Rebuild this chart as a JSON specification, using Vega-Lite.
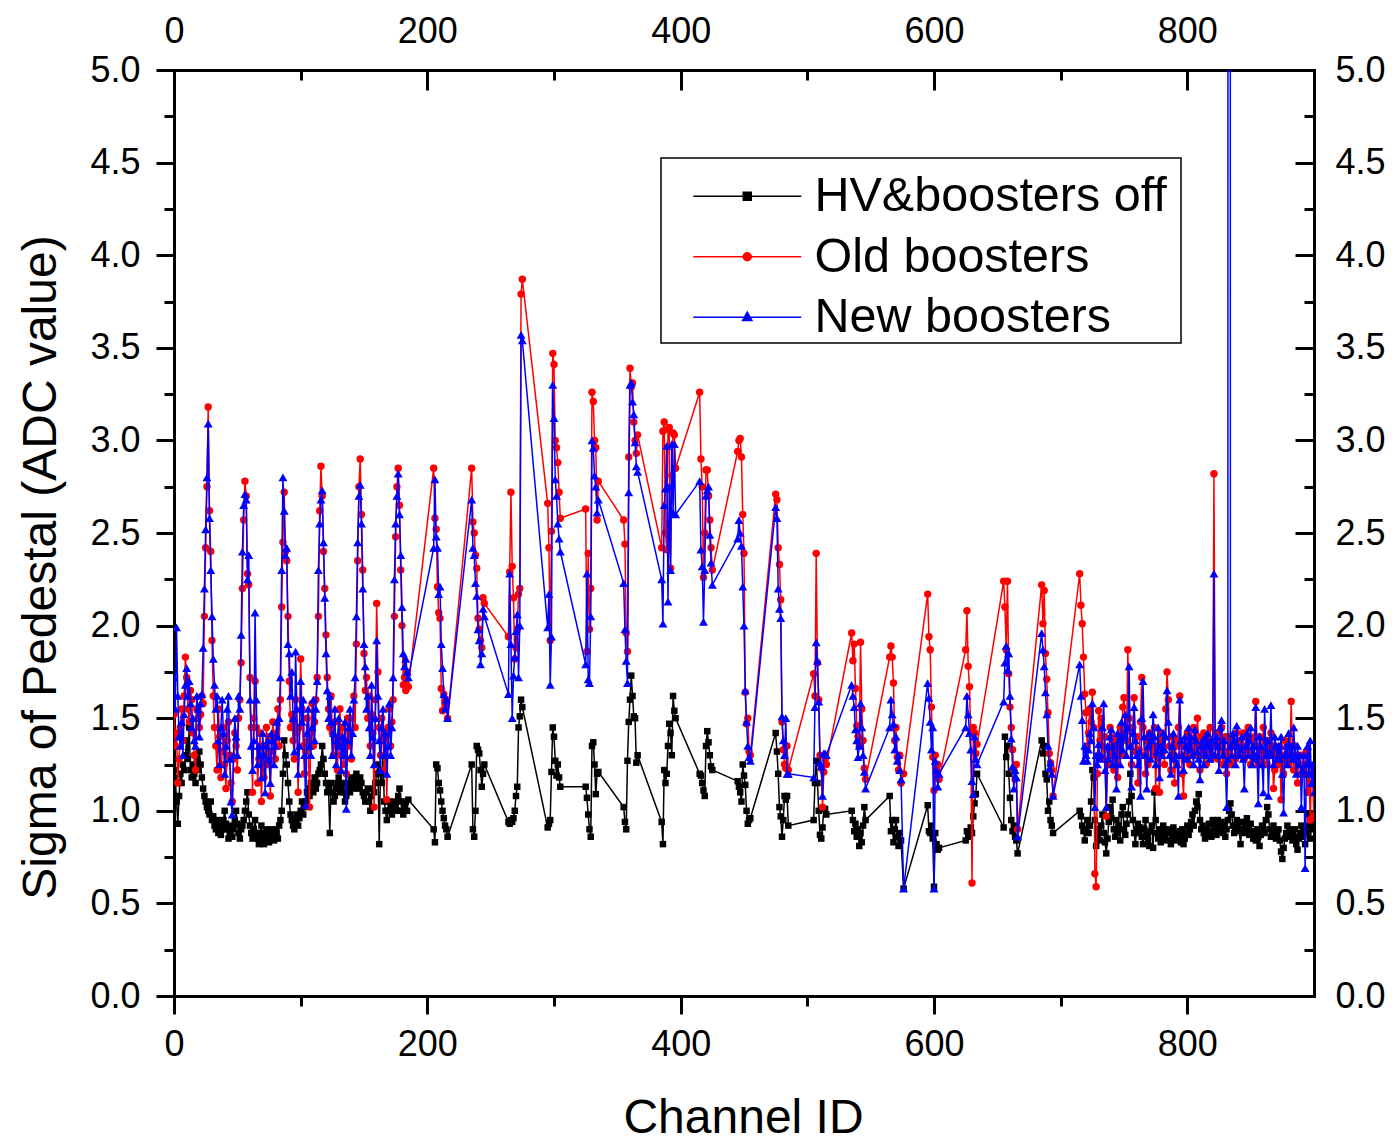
{
"$schema": "https://vega.github.io/schema/vega-lite/v6.json",
"width": 1140, "height": 926,
"autosize": {"type": "none"},
"padding": {"left": 174, "top": 70, "right": 86, "bottom": 145},
"background": "white",
"config": {
 "view": {"stroke": null},
 "font": "Liberation Sans",
 "axis": {"domainColor": "black", "domainWidth": 3, "domainCap": "square", "tickColor": "black", "tickWidth": 3, "labelFont": "Liberation Sans", "labelFontSize": 36, "labelColor": "black", "titleFont": "Liberation Sans", "titleFontSize": 48, "titleFontWeight": "normal", "titleColor": "black", "grid": false, "labelFlush": false, "labelOverlap": false, "zindex": 1}
},
"data": {"values": [
{"c":0,"k":1.22,"r":1.52,"b":1.72},{"c":1,"k":1.18,"r":1.35,"b":1.55},{"c":2,"k":1.05,"r":1.42,"b":1.99},{"c":3,"k":0.93,"r":1.15,"b":1.62},{"c":4,"k":1.08,"r":1.28,"b":1.40},{"c":5,"k":1.20,"r":1.45,"b":1.35},{"c":6,"k":1.15,"r":1.55,"b":1.48},{"c":7,"k":1.25,"r":1.38,"b":1.30},{"c":8,"k":1.22,"r":1.62,"b":1.52},{"c":9,"k":1.30,"r":1.83,"b":1.68},
{"c":10,"k":1.38,"r":1.72,"b":1.77},{"c":11,"k":1.28,"r":1.55,"b":1.62},{"c":12,"k":1.45,"r":1.48,"b":1.70},{"c":13,"k":1.22,"r":1.65,"b":1.58},{"c":14,"k":1.18,"r":1.60,"b":1.45},{"c":15,"k":1.25,"r":1.42,"b":1.50},{"c":16,"k":1.20,"r":1.30,"b":1.38},{"c":17,"k":1.15,"r":1.22,"b":1.35},{"c":18,"k":1.28,"r":1.55,"b":1.62},{"c":19,"k":1.22,"r":1.50,"b":1.55},
{"c":20,"k":1.32,"r":1.45,"b":1.40},{"c":21,"k":1.25,"r":1.52,"b":1.58},{"c":22,"k":1.18,"r":1.62,"b":1.63},{"c":23,"k":1.12,"r":1.58,"b":1.88},{"c":24,"k":1.08,"r":2.05,"b":2.20},{"c":25,"k":1.05,"r":2.42,"b":2.52},{"c":26,"k":1.02,"r":2.75,"b":2.80},{"c":27,"k":1.00,"r":3.18,"b":3.09},{"c":28,"k":0.98,"r":2.62,"b":2.58},{"c":29,"k":1.05,"r":2.40,"b":2.30},
{"c":30,"k":0.95,"r":1.92,"b":2.05},{"c":31,"k":0.97,"r":1.62,"b":1.82},{"c":32,"k":0.92,"r":1.45,"b":1.68},{"c":33,"k":0.90,"r":1.35,"b":1.55},{"c":34,"k":0.95,"r":1.22,"b":1.62},{"c":35,"k":0.88,"r":1.55,"b":1.38},{"c":36,"k":0.92,"r":1.40,"b":1.25},{"c":37,"k":0.87,"r":1.18,"b":1.45},{"c":38,"k":0.90,"r":1.32,"b":1.60},{"c":39,"k":0.95,"r":1.45,"b":1.42},
{"c":40,"k":1.00,"r":1.25,"b":1.20},{"c":41,"k":0.93,"r":1.12,"b":1.35},{"c":42,"k":0.90,"r":1.38,"b":1.55},{"c":43,"k":0.85,"r":1.48,"b":1.62},{"c":44,"k":0.88,"r":1.30,"b":1.28},{"c":45,"k":0.92,"r":1.15,"b":1.05},{"c":46,"k":0.86,"r":1.05,"b":0.98},{"c":47,"k":0.90,"r":1.28,"b":1.30},{"c":48,"k":0.95,"r":1.42,"b":1.50},{"c":49,"k":1.00,"r":1.35,"b":1.40},
{"c":50,"k":0.93,"r":1.22,"b":1.30},{"c":51,"k":0.88,"r":1.50,"b":1.62},{"c":52,"k":0.85,"r":1.60,"b":1.55},{"c":53,"k":0.90,"r":1.80,"b":1.95},{"c":54,"k":0.92,"r":2.20,"b":2.40},{"c":55,"k":0.95,"r":2.57,"b":2.65},{"c":56,"k":1.00,"r":2.78,"b":2.71},{"c":57,"k":1.05,"r":2.70,"b":2.68},{"c":58,"k":1.10,"r":2.28,"b":2.25},{"c":59,"k":0.98,"r":2.22,"b":2.38},
{"c":60,"k":0.92,"r":1.72,"b":1.60},{"c":61,"k":0.88,"r":1.45,"b":1.35},{"c":62,"k":0.85,"r":1.10,"b":1.22},{"c":63,"k":0.90,"r":1.50,"b":1.38},{"c":64,"k":0.95,"r":1.70,"b":2.07},{"c":65,"k":0.88,"r":1.45,"b":1.60},{"c":66,"k":0.85,"r":1.15,"b":1.25},{"c":67,"k":0.82,"r":1.28,"b":1.35},{"c":68,"k":0.88,"r":1.42,"b":1.30},{"c":69,"k":0.92,"r":1.05,"b":1.18},
{"c":70,"k":0.85,"r":1.35,"b":1.42},{"c":71,"k":0.82,"r":1.18,"b":1.30},{"c":72,"k":0.88,"r":1.30,"b":1.10},{"c":73,"k":0.90,"r":1.45,"b":1.35},{"c":74,"k":0.85,"r":1.25,"b":1.38},{"c":75,"k":0.83,"r":1.40,"b":1.28},{"c":76,"k":0.88,"r":1.08,"b":1.15},{"c":77,"k":0.90,"r":1.32,"b":1.42},{"c":78,"k":0.86,"r":1.48,"b":1.38},{"c":79,"k":0.84,"r":1.38,"b":1.25},
{"c":80,"k":0.90,"r":1.28,"b":1.35},{"c":81,"k":0.88,"r":1.42,"b":1.48},{"c":82,"k":0.85,"r":1.55,"b":1.40},{"c":83,"k":0.92,"r":1.35,"b":1.50},{"c":84,"k":0.95,"r":1.60,"b":1.72},{"c":85,"k":1.00,"r":2.10,"b":2.30},{"c":86,"k":1.20,"r":2.45,"b":2.80},{"c":87,"k":1.38,"r":2.72,"b":2.62},{"c":88,"k":1.30,"r":2.40,"b":2.38},{"c":89,"k":1.25,"r":2.35,"b":2.42},
{"c":90,"k":1.15,"r":2.05,"b":1.90},{"c":91,"k":1.05,"r":1.70,"b":1.85},{"c":92,"k":0.98,"r":1.45,"b":1.62},{"c":93,"k":0.95,"r":1.52,"b":1.75},{"c":94,"k":0.92,"r":1.38,"b":1.50},{"c":95,"k":0.90,"r":1.28,"b":1.32},{"c":96,"k":0.95,"r":1.60,"b":1.86},{"c":97,"k":0.98,"r":1.42,"b":1.55},{"c":98,"k":0.92,"r":1.10,"b":1.20},{"c":99,"k":0.96,"r":1.45,"b":1.35},
{"c":100,"k":1.00,"r":1.82,"b":1.70},{"c":101,"k":1.05,"r":1.55,"b":1.48},{"c":102,"k":0.98,"r":1.35,"b":1.60},{"c":103,"k":1.02,"r":1.20,"b":1.30},{"c":104,"k":1.05,"r":1.32,"b":1.03},{"c":105,"k":1.10,"r":1.50,"b":1.42},{"c":106,"k":1.12,"r":1.38,"b":1.55},{"c":107,"k":1.08,"r":1.02,"b":1.35},{"c":108,"k":1.15,"r":1.42,"b":1.30},{"c":109,"k":1.12,"r":1.58,"b":1.45},
{"c":110,"k":1.10,"r":1.35,"b":1.60},{"c":111,"k":1.18,"r":1.48,"b":1.38},{"c":112,"k":1.12,"r":1.60,"b":1.55},{"c":113,"k":1.15,"r":1.72,"b":1.70},{"c":114,"k":1.20,"r":2.05,"b":2.30},{"c":115,"k":1.22,"r":2.62,"b":2.55},{"c":116,"k":1.25,"r":2.86,"b":2.68},{"c":117,"k":1.35,"r":2.70,"b":2.73},{"c":118,"k":1.28,"r":2.40,"b":2.45},{"c":119,"k":1.20,"r":2.20,"b":2.15},
{"c":120,"k":1.15,"r":1.95,"b":1.85},{"c":121,"k":1.10,"r":1.72,"b":1.65},{"c":122,"k":1.12,"r":1.55,"b":1.50},{"c":123,"k":0.88,"r":1.45,"b":1.62},{"c":124,"k":1.15,"r":1.62,"b":1.48},{"c":125,"k":1.10,"r":1.42,"b":1.30},{"c":126,"k":1.05,"r":1.30,"b":1.42},{"c":127,"k":1.08,"r":1.48,"b":1.55},{"c":128,"k":1.12,"r":1.35,"b":1.25},{"c":129,"k":1.15,"r":1.22,"b":1.38},
{"c":130,"k":1.18,"r":1.40,"b":1.50},{"c":131,"k":1.10,"r":1.55,"b":1.35},{"c":132,"k":1.12,"r":1.30,"b":1.22},{"c":133,"k":1.15,"r":1.45,"b":1.40},{"c":134,"k":1.10,"r":1.25,"b":1.30},{"c":135,"k":1.05,"r":1.38,"b":1.48},{"c":136,"k":1.08,"r":1.20,"b":1.01},{"c":137,"k":1.12,"r":1.50,"b":1.38},{"c":138,"k":1.15,"r":1.35,"b":1.45},{"c":139,"k":1.10,"r":1.42,"b":1.55},
{"c":140,"k":1.18,"r":1.28,"b":1.30},{"c":141,"k":1.15,"r":1.50,"b":1.42},{"c":142,"k":1.12,"r":1.62,"b":1.60},{"c":143,"k":1.18,"r":1.45,"b":1.72},{"c":144,"k":1.20,"r":1.90,"b":2.05},{"c":145,"k":1.15,"r":2.35,"b":2.45},{"c":146,"k":1.12,"r":2.75,"b":2.70},{"c":147,"k":1.18,"r":2.90,"b":2.76},{"c":148,"k":1.15,"r":2.60,"b":2.55},{"c":149,"k":1.10,"r":2.30,"b":2.20},
{"c":150,"k":1.08,"r":1.85,"b":1.90},{"c":151,"k":1.05,"r":1.65,"b":1.78},{"c":152,"k":1.10,"r":1.72,"b":1.55},{"c":153,"k":1.12,"r":1.50,"b":1.62},{"c":154,"k":1.05,"r":1.62,"b":1.45},{"c":155,"k":1.00,"r":1.35,"b":1.30},{"c":156,"k":1.08,"r":1.52,"b":1.68},{"c":157,"k":1.12,"r":1.42,"b":1.40},{"c":158,"k":1.10,"r":1.02,"b":1.25},{"c":159,"k":1.15,"r":1.60,"b":1.50},
{"c":160,"k":1.20,"r":2.12,"b":1.92},{"c":161,"k":1.25,"r":1.75,"b":1.62},{"c":162,"k":0.82,"r":1.45,"b":1.38},{"c":163,"k":1.22,"r":1.30,"b":1.22},{"c":164,"k":1.15,"r":1.50,"b":1.45},{"c":165,"k":1.30,"r":1.38,"b":1.55},{"c":166,"k":1.05,"r":1.22,"b":1.30},{"c":167,"k":1.00,"r":1.40,"b":1.42},{"c":168,"k":0.95,"r":1.06,"b":1.20},{"c":169,"k":1.00,"r":1.45,"b":1.35},
{"c":170,"k":1.05,"r":1.55,"b":1.58},{"c":171,"k":1.02,"r":1.35,"b":1.30},{"c":172,"k":0.98,"r":1.48,"b":1.45},{"c":173,"k":1.00,"r":1.60,"b":1.72},{"c":174,"k":1.05,"r":2.05,"b":2.25},{"c":175,"k":1.02,"r":2.48,"b":2.55},{"c":176,"k":1.00,"r":2.75,"b":2.70},{"c":177,"k":1.08,"r":2.85,"b":2.82},{"c":178,"k":1.12,"r":2.65,"b":2.60},{"c":179,"k":1.05,"r":2.30,"b":2.38},
{"c":180,"k":1.00,"r":2.00,"b":2.10},{"c":181,"k":0.98,"r":1.68,"b":1.85},{"c":182,"k":1.02,"r":1.72,"b":1.78},{"c":183,"k":1.05,"r":1.65,"b":1.82},{"c":184,"k":1.00,"r":1.75,"b":1.75},{"c":185,"k":1.06,"r":1.67,"b":1.72},
{"c":205,"k":0.90,"r":2.85,"b":2.42},{"c":206,"k":0.83,"r":2.58,"b":2.79},{"c":207,"k":1.25,"r":2.52,"b":2.48},{"c":208,"k":1.23,"r":2.21,"b":2.42},{"c":209,"k":1.15,"r":2.07,"b":2.17},{"c":210,"k":1.11,"r":2.04,"b":2.21},{"c":211,"k":1.05,"r":1.66,"b":1.90},{"c":212,"k":1.00,"r":1.54,"b":1.77},{"c":213,"k":0.96,"r":1.63,"b":1.63},{"c":214,"k":0.92,"r":1.58,"b":1.55},{"c":215,"k":0.90,"r":1.60,"b":1.60},{"c":216,"k":0.86,"r":1.50,"b":1.50},
{"c":235,"k":1.25,"r":2.85,"b":2.68},{"c":236,"k":0.90,"r":2.56,"b":2.42},{"c":237,"k":0.86,"r":2.50,"b":2.38},{"c":238,"k":1.00,"r":2.38,"b":2.23},{"c":239,"k":1.35,"r":2.31,"b":2.16},{"c":240,"k":1.33,"r":2.04,"b":1.98},{"c":241,"k":1.31,"r":1.98,"b":1.92},{"c":242,"k":1.22,"r":1.92,"b":1.79},{"c":243,"k":1.13,"r":1.88,"b":1.85},{"c":244,"k":1.20,"r":2.15,"b":2.09},{"c":245,"k":1.25,"r":2.12,"b":2.05},
{"c":264,"k":0.94,"r":1.94,"b":1.63},{"c":265,"k":0.93,"r":2.29,"b":2.28},{"c":266,"k":0.95,"r":2.72,"b":1.90},{"c":267,"k":0.94,"r":2.32,"b":1.50},{"c":268,"k":0.96,"r":2.15,"b":1.73},{"c":269,"k":1.00,"r":1.82,"b":1.83},{"c":270,"k":1.08,"r":1.88,"b":1.97},{"c":271,"k":1.13,"r":1.98,"b":2.06},{"c":272,"k":1.45,"r":2.17,"b":1.72},{"c":273,"k":1.51,"r":2.20,"b":2.00},{"c":274,"k":1.60,"r":3.79,"b":3.57},{"c":275,"k":1.56,"r":3.87,"b":3.54},
{"c":295,"k":0.91,"r":2.66,"b":1.99},{"c":296,"k":0.93,"r":2.42,"b":2.17},{"c":297,"k":0.95,"r":1.92,"b":1.68},{"c":298,"k":1.21,"r":2.51,"b":1.94},{"c":299,"k":1.45,"r":3.47,"b":3.30},{"c":300,"k":1.40,"r":3.41,"b":3.12},{"c":301,"k":1.27,"r":3.00,"b":2.79},{"c":302,"k":1.19,"r":2.96,"b":2.70},{"c":303,"k":1.25,"r":2.88,"b":2.55},{"c":304,"k":1.18,"r":2.72,"b":2.47},{"c":305,"k":1.13,"r":2.58,"b":2.40},
{"c":325,"k":1.13,"r":2.63,"b":1.79},{"c":326,"k":1.07,"r":1.86,"b":2.28},{"c":327,"k":0.98,"r":2.39,"b":1.71},{"c":328,"k":0.90,"r":1.98,"b":1.69},{"c":329,"k":0.86,"r":2.20,"b":2.05},{"c":330,"k":1.35,"r":3.26,"b":3.00},{"c":331,"k":1.37,"r":3.21,"b":2.96},{"c":332,"k":1.25,"r":3.00,"b":2.81},{"c":333,"k":1.09,"r":2.96,"b":2.75},{"c":334,"k":1.20,"r":2.57,"b":2.61},{"c":335,"k":1.21,"r":2.78,"b":2.68},
{"c":355,"k":1.02,"r":2.57,"b":2.23},{"c":356,"k":0.94,"r":2.44,"b":1.98},{"c":357,"k":0.90,"r":1.96,"b":1.81},{"c":358,"k":1.27,"r":1.86,"b":1.69},{"c":359,"k":1.48,"r":2.91,"b":2.72},{"c":360,"k":1.60,"r":3.39,"b":3.30},{"c":361,"k":1.73,"r":3.29,"b":3.31},{"c":362,"k":1.62,"r":3.31,"b":3.21},{"c":363,"k":1.51,"r":3.10,"b":3.14},{"c":364,"k":1.50,"r":3.00,"b":2.99},{"c":365,"k":1.26,"r":2.93,"b":2.86},{"c":366,"k":1.30,"r":3.03,"b":2.83},
{"c":385,"k":0.94,"r":2.42,"b":2.25},{"c":386,"k":0.82,"r":3.05,"b":2.01},{"c":387,"k":1.22,"r":3.10,"b":2.65},{"c":388,"k":1.15,"r":2.50,"b":2.74},{"c":389,"k":1.20,"r":2.41,"b":2.97},{"c":390,"k":1.35,"r":3.06,"b":2.13},{"c":391,"k":1.47,"r":3.07,"b":2.75},{"c":392,"k":1.42,"r":2.31,"b":2.30},{"c":393,"k":1.30,"r":2.81,"b":2.98},{"c":394,"k":1.62,"r":3.04,"b":2.61},{"c":395,"k":1.54,"r":3.03,"b":2.98},{"c":396,"k":1.50,"r":2.85,"b":2.60},
{"c":415,"k":1.20,"r":3.26,"b":2.78},{"c":416,"k":1.19,"r":2.90,"b":2.41},{"c":417,"k":1.15,"r":2.75,"b":2.32},{"c":418,"k":1.11,"r":2.26,"b":2.02},{"c":419,"k":1.08,"r":2.50,"b":2.30},{"c":420,"k":1.35,"r":2.84,"b":2.70},{"c":421,"k":1.43,"r":2.84,"b":2.73},{"c":422,"k":1.37,"r":2.70,"b":2.75},{"c":423,"k":1.30,"r":2.57,"b":2.49},{"c":424,"k":1.24,"r":2.42,"b":2.34},{"c":425,"k":1.22,"r":2.30,"b":2.22},
{"c":445,"k":1.16,"r":2.94,"b":2.47},{"c":446,"k":1.13,"r":3.00,"b":2.57},{"c":447,"k":1.10,"r":3.01,"b":2.50},{"c":448,"k":1.05,"r":2.91,"b":2.43},{"c":449,"k":1.25,"r":2.60,"b":2.21},{"c":450,"k":1.19,"r":2.39,"b":2.00},{"c":451,"k":1.14,"r":1.64,"b":1.65},{"c":452,"k":1.00,"r":1.47,"b":1.48},{"c":453,"k":0.93,"r":1.50,"b":1.35},{"c":454,"k":0.95,"r":1.32,"b":1.29},{"c":455,"k":0.96,"r":1.30,"b":1.27},
{"c":475,"k":1.42,"r":2.71,"b":2.64},{"c":476,"k":1.32,"r":2.68,"b":2.58},{"c":477,"k":1.20,"r":2.42,"b":2.20},{"c":478,"k":1.02,"r":2.33,"b":2.09},{"c":479,"k":0.97,"r":2.14,"b":2.04},{"c":480,"k":0.86,"r":1.48,"b":1.51},{"c":481,"k":0.95,"r":1.33,"b":1.38},{"c":482,"k":1.08,"r":1.25,"b":1.30},{"c":483,"k":1.06,"r":1.23,"b":1.50},{"c":484,"k":1.08,"r":1.35,"b":1.20},{"c":485,"k":0.92,"r":1.22,"b":1.20},
{"c":505,"k":0.95,"r":1.74,"b":1.18},{"c":506,"k":1.15,"r":1.62,"b":1.56},{"c":507,"k":1.27,"r":2.39,"b":1.91},{"c":508,"k":1.15,"r":1.80,"b":1.81},{"c":509,"k":1.00,"r":1.60,"b":1.59},{"c":510,"k":0.87,"r":1.30,"b":1.26},{"c":511,"k":0.85,"r":1.23,"b":1.24},{"c":512,"k":0.91,"r":1.02,"b":1.08},{"c":513,"k":1.01,"r":1.21,"b":1.31},{"c":514,"k":1.01,"r":1.28,"b":1.31},{"c":515,"k":0.98,"r":1.25,"b":1.30},
{"c":535,"k":1.00,"r":1.96,"b":1.68},{"c":536,"k":0.95,"r":1.81,"b":1.62},{"c":537,"k":0.89,"r":1.90,"b":1.56},{"c":538,"k":0.93,"r":1.66,"b":1.44},{"c":539,"k":0.86,"r":1.46,"b":1.38},{"c":540,"k":0.90,"r":1.40,"b":1.29},{"c":541,"k":0.81,"r":1.35,"b":1.35},{"c":542,"k":0.88,"r":1.91,"b":1.58},{"c":543,"k":0.83,"r":1.55,"b":1.45},{"c":544,"k":0.92,"r":1.38,"b":1.30},{"c":545,"k":1.02,"r":1.23,"b":1.21},{"c":546,"k":0.95,"r":1.17,"b":1.12},
{"c":565,"k":1.08,"r":1.83,"b":1.45},{"c":566,"k":0.89,"r":1.89,"b":1.60},{"c":567,"k":0.95,"r":1.83,"b":1.52},{"c":568,"k":0.83,"r":1.69,"b":1.47},{"c":569,"k":0.90,"r":1.38,"b":1.33},{"c":570,"k":0.95,"r":1.45,"b":1.40},{"c":571,"k":0.86,"r":1.29,"b":1.27},{"c":572,"k":0.81,"r":1.22,"b":1.30},{"c":573,"k":0.88,"r":1.30,"b":1.22},{"c":574,"k":0.84,"r":1.15,"b":1.17},{"c":576,"k":0.58,"r":1.20,"b":0.58},
{"c":595,"k":1.03,"r":2.17,"b":1.69},{"c":596,"k":0.89,"r":1.94,"b":1.61},{"c":597,"k":0.88,"r":1.87,"b":1.48},{"c":598,"k":0.92,"r":1.56,"b":1.33},{"c":599,"k":0.85,"r":1.29,"b":1.45},{"c":600,"k":0.59,"r":1.11,"b":0.58},{"c":601,"k":0.88,"r":1.30,"b":1.27},{"c":602,"k":0.82,"r":1.22,"b":1.22},{"c":603,"k":0.79,"r":1.25,"b":1.13},{"c":604,"k":0.80,"r":1.17,"b":1.20},
{"c":625,"k":0.84,"r":1.87,"b":1.45},{"c":626,"k":0.89,"r":2.08,"b":1.62},{"c":627,"k":0.87,"r":1.78,"b":1.52},{"c":628,"k":0.86,"r":1.67,"b":1.42},{"c":629,"k":0.91,"r":1.42,"b":1.33},{"c":630,"k":0.88,"r":0.61,"b":1.16},{"c":631,"k":0.97,"r":1.45,"b":1.09},{"c":632,"k":1.04,"r":1.42,"b":1.40},{"c":633,"k":1.09,"r":1.31,"b":1.28},{"c":634,"k":1.20,"r":1.36,"b":1.25},
{"c":655,"k":0.91,"r":2.24,"b":1.59},{"c":656,"k":1.40,"r":2.10,"b":1.80},{"c":657,"k":1.29,"r":1.87,"b":1.89},{"c":658,"k":1.35,"r":2.24,"b":1.76},{"c":659,"k":1.20,"r":1.74,"b":1.85},{"c":660,"k":1.07,"r":1.56,"b":1.62},{"c":661,"k":0.95,"r":1.45,"b":1.39},{"c":662,"k":0.89,"r":1.33,"b":1.24},{"c":663,"k":0.92,"r":1.22,"b":1.12},{"c":664,"k":0.86,"r":1.17,"b":1.22},{"c":665,"k":0.84,"r":1.25,"b":1.18},{"c":666,"k":0.77,"r":0.90,"b":0.86},
{"c":685,"k":1.38,"r":2.22,"b":1.96},{"c":686,"k":1.31,"r":2.01,"b":1.87},{"c":687,"k":1.35,"r":2.19,"b":1.78},{"c":688,"k":1.20,"r":1.85,"b":1.64},{"c":689,"k":1.17,"r":1.71,"b":1.52},{"c":690,"k":1.00,"r":1.53,"b":1.35},{"c":691,"k":1.05,"r":1.31,"b":1.23},{"c":692,"k":0.95,"r":1.26,"b":1.26},{"c":693,"k":0.92,"r":1.22,"b":1.20},{"c":694,"k":0.88,"r":1.08,"b":1.08},
{"c":715,"k":1.00,"r":2.28,"b":1.79},{"c":716,"k":0.97,"r":2.11,"b":1.62},{"c":717,"k":0.92,"r":2.01,"b":1.49},{"c":718,"k":0.89,"r":1.83,"b":1.27},{"c":719,"k":0.84,"r":1.63,"b":1.35},{"c":720,"k":0.90,"r":1.53,"b":1.30},{"c":721,"k":0.95,"r":1.35,"b":1.27},
{"c":722,"k":0.88,"r":1.42,"b":1.33},{"c":723,"k":0.92,"r":1.55,"b":1.42},{"c":724,"k":1.05,"r":1.48,"b":1.38},{"c":725,"k":1.22,"r":1.64,"b":1.58},{"c":726,"k":1.18,"r":1.45,"b":1.45},{"c":727,"k":0.95,"r":0.66,"b":1.02},{"c":728,"k":0.81,"r":0.59,"b":1.30},{"c":729,"k":0.86,"r":1.20,"b":1.25},{"c":730,"k":0.90,"r":1.54,"b":1.36},{"c":731,"k":0.84,"r":1.38,"b":1.28},
{"c":732,"k":0.92,"r":1.50,"b":1.30},{"c":733,"k":0.98,"r":1.35,"b":1.45},{"c":734,"k":0.88,"r":1.28,"b":1.58},{"c":735,"k":0.83,"r":1.40,"b":1.22},{"c":736,"k":0.77,"r":0.97,"b":1.02},{"c":737,"k":0.85,"r":1.25,"b":1.35},{"c":738,"k":0.94,"r":1.33,"b":1.28},{"c":739,"k":1.02,"r":1.45,"b":1.40},{"c":740,"k":0.96,"r":1.30,"b":1.44},{"c":741,"k":1.06,"r":1.38,"b":1.25},
{"c":742,"k":0.90,"r":1.22,"b":1.35},{"c":743,"k":0.86,"r":1.40,"b":1.30},{"c":744,"k":0.95,"r":1.32,"b":1.12},{"c":745,"k":0.88,"r":1.18,"b":1.42},{"c":746,"k":0.92,"r":1.35,"b":1.38},{"c":747,"k":0.84,"r":1.45,"b":1.25},{"c":748,"k":0.98,"r":1.30,"b":1.48},{"c":749,"k":1.02,"r":1.56,"b":1.33},{"c":750,"k":0.90,"r":1.61,"b":1.40},{"c":751,"k":0.87,"r":1.42,"b":1.52},
{"c":752,"k":0.93,"r":1.38,"b":1.30},{"c":753,"k":0.98,"r":1.87,"b":1.45},{"c":754,"k":1.05,"r":1.50,"b":1.78},{"c":755,"k":1.20,"r":1.35,"b":1.35},{"c":756,"k":1.08,"r":1.25,"b":1.13},{"c":757,"k":0.95,"r":1.45,"b":1.42},{"c":758,"k":0.88,"r":1.61,"b":1.56},{"c":759,"k":0.82,"r":1.32,"b":1.38},{"c":760,"k":0.90,"r":1.40,"b":1.30},{"c":761,"k":0.93,"r":1.15,"b":1.25},
{"c":762,"k":0.88,"r":1.33,"b":1.32},{"c":763,"k":0.91,"r":1.48,"b":1.08},{"c":764,"k":0.86,"r":1.72,"b":1.50},{"c":765,"k":0.82,"r":1.45,"b":1.70},{"c":766,"k":0.90,"r":1.30,"b":1.40},{"c":767,"k":0.95,"r":1.20,"b":1.30},{"c":768,"k":0.87,"r":1.38,"b":1.12},{"c":769,"k":0.84,"r":1.25,"b":1.35},{"c":770,"k":0.81,"r":1.42,"b":1.42},{"c":771,"k":0.89,"r":1.35,"b":1.28},
{"c":772,"k":0.92,"r":1.40,"b":1.38},{"c":773,"k":0.80,"r":1.30,"b":1.52},{"c":774,"k":1.10,"r":1.45,"b":1.40},{"c":775,"k":0.95,"r":1.12,"b":1.25},{"c":776,"k":0.88,"r":1.35,"b":1.32},{"c":777,"k":0.85,"r":1.28,"b":1.45},{"c":778,"k":0.90,"r":1.10,"b":1.18},{"c":779,"k":0.83,"r":1.38,"b":1.35},{"c":780,"k":0.87,"r":1.42,"b":1.30},{"c":781,"k":0.92,"r":1.33,"b":1.42},
{"c":782,"k":0.86,"r":1.25,"b":1.33},{"c":783,"k":0.89,"r":1.55,"b":1.40},{"c":784,"k":0.84,"r":1.75,"b":1.65},{"c":785,"k":0.90,"r":1.60,"b":1.48},{"c":786,"k":0.88,"r":1.35,"b":1.30},{"c":787,"k":0.82,"r":1.22,"b":1.20},{"c":788,"k":0.87,"r":1.40,"b":1.35},{"c":789,"k":0.91,"r":1.30,"b":1.42},{"c":790,"k":0.85,"r":1.15,"b":1.28},{"c":791,"k":0.88,"r":1.38,"b":1.30},
{"c":792,"k":0.84,"r":1.35,"b":1.25},{"c":793,"k":0.86,"r":1.45,"b":1.08},{"c":794,"k":0.89,"r":1.62,"b":1.60},{"c":795,"k":0.83,"r":1.30,"b":1.38},{"c":796,"k":0.90,"r":1.20,"b":1.30},{"c":797,"k":0.82,"r":1.08,"b":1.22},{"c":798,"k":0.85,"r":1.35,"b":1.40},{"c":799,"k":0.88,"r":1.28,"b":1.35},{"c":800,"k":0.92,"r":1.42,"b":1.28},{"c":801,"k":0.87,"r":1.30,"b":1.45},
{"c":802,"k":0.90,"r":1.25,"b":1.33},{"c":803,"k":0.94,"r":1.38,"b":1.40},{"c":804,"k":0.98,"r":1.32,"b":1.30},{"c":805,"k":0.92,"r":1.45,"b":1.25},{"c":806,"k":1.00,"r":1.30,"b":1.44},{"c":807,"k":1.05,"r":1.38,"b":1.38},{"c":808,"k":1.02,"r":1.50,"b":1.32},{"c":809,"k":1.09,"r":1.35,"b":1.28},{"c":810,"k":0.95,"r":1.22,"b":1.17},{"c":811,"k":0.90,"r":1.40,"b":1.35},
{"c":812,"k":0.92,"r":1.30,"b":1.38},{"c":813,"k":0.88,"r":1.42,"b":1.25},{"c":814,"k":0.85,"r":1.35,"b":1.40},{"c":815,"k":0.90,"r":1.25,"b":1.30},{"c":816,"k":0.87,"r":1.38,"b":1.42},{"c":817,"k":0.93,"r":1.32,"b":1.35},{"c":818,"k":0.89,"r":1.45,"b":1.28},{"c":819,"k":0.86,"r":1.28,"b":1.38},{"c":820,"k":0.95,"r":1.30,"b":1.30},{"c":821,"k":0.92,"r":2.82,"b":2.28},
{"c":822,"k":0.90,"r":1.35,"b":1.30},{"c":823,"k":0.87,"r":1.42,"b":1.40},{"c":824,"k":0.95,"r":1.28,"b":1.35},{"c":825,"k":0.92,"r":1.38,"b":1.22},{"c":826,"k":0.89,"r":1.33,"b":1.45},{"c":827,"k":0.94,"r":1.45,"b":1.49},{"c":828,"k":0.88,"r":1.25,"b":1.30},{"c":829,"k":0.92,"r":1.30,"b":1.38},{"c":830,"k":0.86,"r":1.40,"b":1.25},{"c":831,"k":0.90,"r":1.20,"b":1.02},
{"c":832,"k":0.95,"r":1.32,"b":1.28},{"c":833,"k":1.00,"r":1.40,"b":50},{"c":834,"k":1.04,"r":1.30,"b":1.35},{"c":835,"k":0.98,"r":1.25,"b":1.30},{"c":836,"k":0.92,"r":1.38,"b":1.42},{"c":837,"k":0.88,"r":1.35,"b":1.38},{"c":838,"k":0.90,"r":1.28,"b":1.25},{"c":839,"k":0.95,"r":1.42,"b":1.46},{"c":840,"k":0.93,"r":1.30,"b":1.35},{"c":841,"k":0.89,"r":1.36,"b":1.30},
{"c":842,"k":0.82,"r":1.38,"b":1.33},{"c":843,"k":0.90,"r":1.30,"b":1.40},{"c":844,"k":0.94,"r":1.42,"b":1.28},{"c":845,"k":0.88,"r":1.28,"b":1.12},{"c":846,"k":0.92,"r":1.35,"b":1.35},{"c":847,"k":0.96,"r":1.40,"b":1.42},{"c":848,"k":0.90,"r":1.45,"b":1.30},{"c":849,"k":0.87,"r":1.32,"b":1.38},{"c":850,"k":0.93,"r":1.25,"b":1.45},{"c":851,"k":0.89,"r":1.38,"b":1.25},
{"c":852,"k":0.85,"r":1.30,"b":1.35},{"c":853,"k":0.88,"r":1.40,"b":1.28},{"c":854,"k":0.84,"r":1.59,"b":1.56},{"c":855,"k":0.90,"r":1.35,"b":1.30},{"c":856,"k":0.86,"r":1.25,"b":1.04},{"c":857,"k":0.81,"r":1.40,"b":1.40},{"c":858,"k":0.87,"r":1.32,"b":1.35},{"c":859,"k":0.92,"r":1.28,"b":1.25},{"c":860,"k":0.90,"r":1.45,"b":1.10},{"c":861,"k":0.88,"r":1.38,"b":1.55},
{"c":862,"k":0.95,"r":1.32,"b":1.30},{"c":863,"k":1.02,"r":1.25,"b":1.38},{"c":864,"k":0.98,"r":1.38,"b":1.08},{"c":865,"k":0.90,"r":1.30,"b":1.32},{"c":866,"k":0.86,"r":1.42,"b":1.57},{"c":867,"k":0.88,"r":1.35,"b":1.30},{"c":868,"k":0.92,"r":1.12,"b":1.25},{"c":869,"k":0.89,"r":1.22,"b":1.40},{"c":870,"k":0.85,"r":1.33,"b":1.35},{"c":871,"k":0.87,"r":1.30,"b":1.28},
{"c":872,"k":0.90,"r":1.25,"b":1.35},{"c":873,"k":0.84,"r":1.35,"b":1.28},{"c":874,"k":0.78,"r":1.06,"b":1.40},{"c":875,"k":0.74,"r":1.30,"b":1.20},{"c":876,"k":0.80,"r":1.20,"b":0.99},{"c":877,"k":0.85,"r":1.38,"b":1.30},{"c":878,"k":0.88,"r":1.28,"b":1.35},{"c":879,"k":0.92,"r":1.35,"b":1.25},{"c":880,"k":0.86,"r":1.25,"b":1.42},{"c":881,"k":0.90,"r":1.30,"b":1.30},
{"c":882,"k":0.88,"r":1.59,"b":1.35},{"c":883,"k":0.84,"r":1.30,"b":1.28},{"c":884,"k":0.86,"r":1.22,"b":1.45},{"c":885,"k":0.90,"r":1.35,"b":1.30},{"c":886,"k":0.82,"r":1.28,"b":1.20},{"c":887,"k":0.79,"r":1.15,"b":1.35},{"c":888,"k":0.85,"r":1.30,"b":1.25},{"c":889,"k":0.88,"r":1.25,"b":1.30},{"c":890,"k":0.92,"r":1.20,"b":1.02},{"c":891,"k":0.86,"r":1.30,"b":1.22},
{"c":892,"k":0.90,"r":1.25,"b":1.30},{"c":893,"k":0.82,"r":1.20,"b":0.69},{"c":894,"k":0.88,"r":1.32,"b":1.25},{"c":895,"k":0.92,"r":1.10,"b":1.35},{"c":896,"k":0.98,"r":1.25,"b":1.20},{"c":897,"k":0.85,"r":0.95,"b":1.38},{"c":898,"k":0.90,"r":1.20,"b":1.15},{"c":899,"k":0.95,"r":1.15,"b":1.25},{"c":900,"k":0.92,"r":0.97,"b":1.10}
]},
"layer": [
 {"mark": {"type": "line", "strokeWidth": 1.5, "clip": true},
  "encoding": {
   "x": {"field": "c", "type": "quantitative", "scale": {"domain": [0, 900], "nice": false, "zero": false},
         "axis": {"orient": "bottom", "values": [0, 200, 400, 600, 800], "tickSize": 18, "labelPadding": 13, "title": "Channel ID", "titleX": 569, "titleY": 136, "titleAlign": "center", "titleBaseline": "alphabetic", "titleAnchor": null}},
   "y": {"field": "k", "type": "quantitative", "scale": {"domain": [0, 5], "nice": false, "zero": false},
         "axis": {"orient": "left", "values": [0, 0.5, 1, 1.5, 2, 2.5, 3, 3.5, 4, 4.5, 5], "format": ".1f", "tickSize": 18, "labelPadding": 16, "title": "Sigma of Pedestal (ADC value)", "titleAngle": 270, "titleX": -119, "titleY": 497, "titleAlign": "center", "titleBaseline": "alphabetic", "titleAnchor": null}},
   "color": {"datum": "HV&boosters off", "type": "nominal",
     "scale": {"domain": ["HV&boosters off", "Old boosters", "New boosters"], "range": ["#000000", "#ff0000", "#0000ff"]},
     "legend": {"orient": "none", "legendX": 487, "legendY": 88, "title": " ", "titleFontSize": 10, "titlePadding": 3, "padding": 1, "rowPadding": 11.5,
       "strokeColor": "black", "fillColor": "white", "symbolSize": 400, "symbolOffset": 61, "labelOffset": 43,
       "labelFont": "Liberation Sans", "labelFontSize": 48.5, "labelColor": "black", "labelLimit": 0, "labelBaseline": "middle",
       "encode": {
         "legend": {"update": {"strokeWidth": {"value": 1.5}}},
         "symbols": {"update": {
           "shape": {"signal": "datum.value == 'HV&boosters off' ? 'M-5.4,0H5.4M-0.4,-0.4H0.4V0.4H-0.4ZM42.9,0' : datum.value == 'Old boosters' ? 'M-5.4,0H5.4M-0.4,0A0.4,0.4 0 1,0 0.4,0A0.4,0.4 0 1,0 -0.4,0ZM42.9,0' : 'M-5.4,0H5.4M0,-0.52L0.47,0.32L-0.47,0.32ZM42.9,0'"},
           "size": {"value": 400},
           "fill": {"scale": "color", "field": "value"},
           "stroke": {"scale": "color", "field": "value"},
           "fillOpacity": {"value": 1},
           "strokeOpacity": {"value": 1},
           "opacity": {"value": 1},
           "strokeWidth": {"value": 1.5}}}}}}
  }},
 {"mark": {"type": "point", "shape": "square", "filled": true, "size": 42, "opacity": 1, "clip": true},
  "encoding": {
   "x": {"field": "c", "type": "quantitative", "axis": {"orient": "top", "values": [0, 200, 400, 600, 800], "tickSize": -20, "labelPadding": 40, "title": null}},
   "y": {"field": "k", "type": "quantitative", "axis": {"orient": "right", "values": [0, 0.5, 1, 1.5, 2, 2.5, 3, 3.5, 4, 4.5, 5], "format": ".1f", "tickSize": -19, "labelPadding": 40, "title": null}},
   "color": {"datum": "HV&boosters off", "type": "nominal"}
  }},
 {"mark": {"type": "line", "strokeWidth": 1.5, "clip": true},
  "encoding": {
   "x": {"field": "c", "type": "quantitative", "axis": {"orient": "bottom", "values": [100, 300, 500, 700], "tickSize": 10, "labels": false, "domain": false, "title": null}},
   "y": {"field": "r", "type": "quantitative", "axis": {"orient": "left", "values": [0.25, 0.75, 1.25, 1.75, 2.25, 2.75, 3.25, 3.75, 4.25, 4.75], "tickSize": 10, "labels": false, "domain": false, "title": null}},
   "color": {"datum": "Old boosters", "type": "nominal"}
  }},
 {"mark": {"type": "point", "shape": "circle", "filled": true, "size": 55, "opacity": 1, "clip": true},
  "encoding": {
   "x": {"field": "c", "type": "quantitative", "axis": {"orient": "top", "values": [100, 300, 500, 700], "tickSize": -10, "labels": false, "domain": false, "title": null}},
   "y": {"field": "r", "type": "quantitative", "axis": {"orient": "right", "values": [0.25, 0.75, 1.25, 1.75, 2.25, 2.75, 3.25, 3.75, 4.25, 4.75], "tickSize": -10, "labels": false, "domain": false, "title": null}},
   "color": {"datum": "Old boosters", "type": "nominal"}
  }},
 {"mark": {"type": "line", "strokeWidth": 1.5, "clip": true},
  "encoding": {
   "x": {"field": "c", "type": "quantitative", "axis": null},
   "y": {"field": "b", "type": "quantitative", "axis": null},
   "color": {"datum": "New boosters", "type": "nominal"}
  }},
 {"mark": {"type": "point", "shape": "triangle-up", "filled": true, "size": 80, "opacity": 1, "clip": true},
  "encoding": {
   "x": {"field": "c", "type": "quantitative", "axis": null},
   "y": {"field": "b", "type": "quantitative", "axis": null},
   "color": {"datum": "New boosters", "type": "nominal"}
  }}
],
"resolve": {"axis": {"x": "independent", "y": "independent"}}
}
